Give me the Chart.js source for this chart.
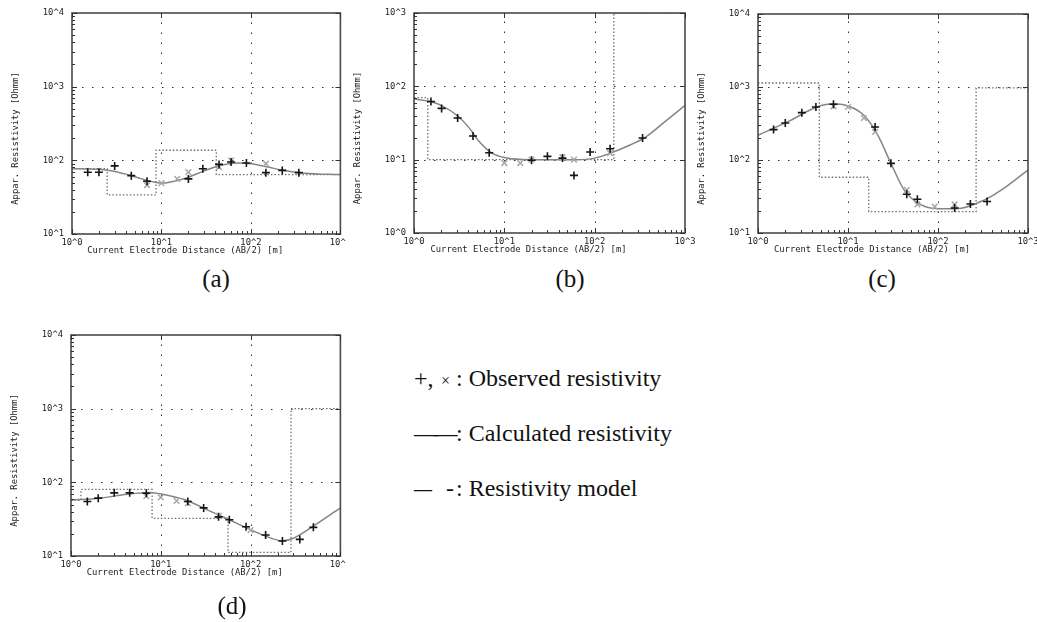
<!DOCTYPE html>
<html>
<head>
<meta charset="utf-8">
<script src="https://cdn.jsdelivr.net/npm/chart.js@4.4.1/dist/chart.umd.min.js"></script>
<style>
  body { margin: 0; background: #fff; width: 1037px; height: 622px; position: relative; overflow: hidden;
         font-family: "Liberation Serif", "Times New Roman", serif; color: #111; }
  canvas { position: absolute; }
  .lab { position: absolute; font-size: 25px; line-height: 25px; width: 100px; text-align: center; }
  .leg { position: absolute; font-size: 24px; line-height: 24px; white-space: nowrap; }
</style>
</head>
<body>
<canvas id="ca" width="346" height="262" style="left:0;top:0"></canvas>
<canvas id="cb" width="360" height="262" style="left:345px;top:0"></canvas>
<canvas id="cc" width="347" height="262" style="left:690px;top:0"></canvas>
<canvas id="cd" width="346" height="322" style="left:0;top:300px"></canvas>

<div class="lab" style="left:166px;top:266px">(a)</div>
<div class="lab" style="left:520px;top:266px">(b)</div>
<div class="lab" style="left:832px;top:266px">(c)</div>
<div class="lab" style="left:182px;top:593px">(d)</div>

<div class="leg" style="left:414px;top:366px">+,</div>
<div class="leg" style="left:441px;top:369px;font-size:16px">×</div>
<div class="leg" style="left:456px;top:366px">: Observed resistivity</div>
<div class="leg" style="left:414px;top:421px;letter-spacing:-4.5px">——</div>
<div class="leg" style="left:456px;top:421px">: Calculated resistivity</div>
<div class="leg" style="left:414px;top:476px;transform:scaleX(0.75);transform-origin:left">—</div>
<div class="leg" style="left:446px;top:476px">-</div>
<div class="leg" style="left:456px;top:476px">: Resistivity model</div>

<script>
// axis ticks (decades)
const xTicks = [1, 10, 100, 1000];
const yTicksA = [10, 100, 1000, 10000];
const yTicksB = [1, 10, 100, 1000];
const yTicksC = [10, 100, 1000, 10000];
const yTicksD = [10, 100, 1000, 10000];
const xTitle = 'Current Electrode Distance (AB/2) [m]';
const yTitle = 'Appar. Resistivity [Ohmm]';

// (a)
const obsA_x = [1.5, 2, 3, 4.6, 6.9, 20, 29, 44, 60, 89, 147, 224, 343];
const obsA_y = [69, 69, 84, 62, 52, 56, 77, 88, 95, 92, 68, 73, 68];
const obs2A_x = [6.9, 10, 15, 20, 44, 60, 147];
const obs2A_y = [46, 49, 56, 69, 81, 100, 90];
const calcA_x = [1, 1.5, 2.6, 4, 6, 8, 10, 14, 20, 30, 45, 70, 100, 150, 220, 400, 1000];
const calcA_y = [77, 76.5, 73, 65, 56, 51, 49, 52, 59, 72, 85, 92, 90, 82, 74, 67, 64];
const modelA_x = [1, 2.47, 2.47, 8.7, 8.7, 41, 41, 1000];
const modelA_y = [77, 77, 34, 34, 137, 137, 64, 64];

// (b)
const obsB_x = [1.54, 2.02, 3.04, 4.5, 6.8, 20, 30, 44, 59, 89, 148, 339];
const obsB_y = [62, 50, 37, 21, 12.4, 9.8, 11.1, 10.5, 6.1, 12.7, 14.1, 19.7];
const obs2B_x = [10, 15, 20, 44, 59, 148];
const obs2B_y = [9.0, 9.0, 10, 10.8, 10, 12.3];
const calcB_x = [1, 1.5, 2, 3, 4, 5.2, 7.3, 10, 20, 60, 100, 150, 250, 360, 600, 1000];
const calcB_y = [67, 62, 55, 40, 28, 18, 12.3, 10.7, 10, 10, 10.5, 12.3, 16, 20, 33, 55];
const modelB_x = [1, 1.42, 1.42, 163, 163, 1000];
const modelB_y = [70, 70, 10, 10, 1000, 1000];

// (c)
const obsC_x = [1.49, 2.01, 3.07, 4.4, 6.9, 20, 30, 45, 59, 153, 229, 351];
const obsC_y = [261, 321, 445, 532, 580, 283, 90, 34, 29, 22, 25, 27];
const obs2C_x = [6.9, 10, 15, 20, 45, 59, 92, 153];
const obs2C_y = [543, 532, 376, 242, 39, 24.6, 23, 24.6];
const calcC_x = [1, 2.3, 4.5, 7, 10.7, 15, 21, 30, 42, 62, 100, 160, 320, 570, 1000];
const calcC_y = [218, 349, 532, 590, 532, 409, 229, 90, 39, 25, 21.5, 21.5, 28, 43, 73];
const modelC_x = [1, 4.8, 4.8, 17, 17, 265, 265, 1000];
const modelC_y = [1135, 1135, 58, 58, 19.6, 19.6, 970, 970];

// (d)
const obsD_x = [1.52, 2.01, 3.03, 4.5, 6.9, 20, 30, 44, 58, 89, 147, 226, 353, 500];
const obsD_y = [55, 61, 72, 72, 71, 55, 45, 34, 31, 25, 19.3, 16, 16.8, 24.5];
const obs2D_x = [6.9, 10, 15, 20, 44, 100];
const obs2D_y = [65, 62.5, 56, 52, 35, 22.5];
const calcD_x = [1, 2.1, 4.2, 7.5, 10.5, 19, 32, 55, 88, 147, 225, 300, 490, 1000];
const calcD_y = [57.5, 61, 69, 73, 69, 57.5, 43, 32, 24.5, 18.6, 16.1, 17.4, 25, 45];
const modelD_x = [1, 1.29, 1.29, 8.0, 8.0, 56, 56, 282, 282, 1000];
const modelD_y = [57, 57, 80, 80, 32.5, 32.5, 11.2, 11.2, 1000, 1000];

const pts = (xs, ys) => xs.map((x, i) => ({ x: x, y: ys[i] }));
const monoFont = { family: 'DejaVu Sans Mono', size: 8.8 };
const decadeLabel = v => '10^' + Math.round(Math.log10(v));

// frame, dotted grid, inward ticks, axis titles
const framePlugin = {
  id: 'frame',
  beforeDatasetsDraw(chart) {
    const { ctx, chartArea: a, scales: { x, y } } = chart;
    ctx.save();
    ctx.strokeStyle = '#333';
    ctx.lineWidth = 1;
    ctx.setLineDash([1.5, 8.5]);
    x.ticks.slice(1, -1).forEach(t => {
      const px = Math.round(x.getPixelForValue(t.value)) + 0.5;
      ctx.beginPath(); ctx.moveTo(px, a.bottom); ctx.lineTo(px, a.top); ctx.stroke();
    });
    y.ticks.slice(1, -1).forEach(t => {
      const py = Math.round(y.getPixelForValue(t.value)) + 0.5;
      ctx.beginPath(); ctx.moveTo(a.left, py); ctx.lineTo(a.right, py); ctx.stroke();
    });
    ctx.restore();
  },
  afterDatasetsDraw(chart) {
    const { ctx, chartArea: a, scales: { x, y } } = chart;
    ctx.save();
    ctx.setLineDash([]);
    ctx.strokeStyle = '#4a4a4a';
    ctx.lineWidth = 1.6;
    ctx.strokeRect(a.left, a.top, a.right - a.left, a.bottom - a.top);
    ctx.strokeStyle = '#333';
    ctx.lineWidth = 1;
    const tick = (x1, y1, x2, y2) => { ctx.beginPath(); ctx.moveTo(x1, y1); ctx.lineTo(x2, y2); ctx.stroke(); };
    x.ticks.forEach((t, i) => {
      const px = Math.round(x.getPixelForValue(t.value)) + 0.5;
      tick(px, a.bottom, px, a.bottom - 5);
      tick(px, a.top, px, a.top + 5);
      if (i < x.ticks.length - 1) {
        for (let k = 2; k < 10; k++) {
          const mx = Math.round(x.getPixelForValue(t.value * k)) + 0.5;
          tick(mx, a.bottom, mx, a.bottom - 3);
        }
      }
    });
    y.ticks.forEach((t, i) => {
      const py = Math.round(y.getPixelForValue(t.value)) + 0.5;
      tick(a.left, py, a.left + 5, py);
      tick(a.right, py, a.right - 5, py);
      if (i < y.ticks.length - 1) {
        for (let k = 2; k < 10; k++) {
          const my = Math.round(y.getPixelForValue(t.value * k)) + 0.5;
          tick(a.left, my, a.left + 3, my);
        }
      }
    });
    ctx.fillStyle = '#1a1a1a';
    ctx.font = '8.8px "DejaVu Sans Mono"';
    ctx.textAlign = 'center';
    ctx.textBaseline = 'middle';
    ctx.fillText(xTitle, (a.left + a.right) / 2 - 21, a.bottom + 17);
    ctx.translate(a.left - 56, (a.top + a.bottom) / 2 + 15);
    ctx.rotate(-Math.PI / 2);
    ctx.fillText(yTitle, 0, 0);
    ctx.restore();
  }
};

function makePanel(id, geo, yTicks, obs, obs2, calc, model) {
  const canvas = document.getElementById(id);
  const W = canvas.width, H = canvas.height;
  return new Chart(canvas, {
    type: 'scatter',
    data: {
      datasets: [
        { data: obs, pointStyle: 'cross', pointRadius: 4, borderColor: '#151515', borderWidth: 1.6, order: 0 },
        { data: obs2, pointStyle: 'crossRot', pointRadius: 4, borderColor: '#a8a8a8', borderWidth: 1.5, order: 1 },
        { data: calc, showLine: true, pointRadius: 0, borderColor: '#858585', borderWidth: 1.5,
          cubicInterpolationMode: 'monotone', order: 2 },
        { data: model, showLine: true, pointRadius: 0, borderColor: '#6e6e6e', borderWidth: 1.3,
          borderDash: [1.5, 2], order: 3 }
      ]
    },
    options: {
      responsive: false,
      animation: false,
      layout: { padding: { left: 0, top: geo.T, right: W - geo.R, bottom: 0 } },
      plugins: { legend: { display: false }, tooltip: { enabled: false } },
      scales: {
        x: {
          type: 'logarithmic', min: xTicks[0], max: xTicks[xTicks.length - 1],
          afterBuildTicks: s => { s.ticks = xTicks.map(v => ({ value: v })); },
          afterFit: s => { s.height = H - geo.B; s.paddingLeft = 0; s.paddingRight = 0; },
          grid: { display: false, drawTicks: false },
          border: { display: false },
          ticks: { callback: decadeLabel, font: monoFont, color: '#1a1a1a', padding: 3, maxRotation: 0, autoSkip: false }
        },
        y: {
          type: 'logarithmic', min: yTicks[0], max: yTicks[yTicks.length - 1],
          afterBuildTicks: s => { s.ticks = yTicks.map(v => ({ value: v })); },
          afterFit: s => { s.width = geo.L; s.paddingTop = 0; s.paddingBottom = 0; },
          grid: { display: false, drawTicks: false },
          border: { display: false },
          ticks: { callback: decadeLabel, font: monoFont, color: '#1a1a1a', padding: 8, autoSkip: false }
        }
      }
    },
    plugins: [framePlugin]
  });
}

makePanel('ca', { L: 72, T: 13, R: 342, B: 234 }, yTicksA,
  pts(obsA_x, obsA_y), pts(obs2A_x, obs2A_y), pts(calcA_x, calcA_y), pts(modelA_x, modelA_y));
makePanel('cb', { L: 69, T: 13, R: 340, B: 233 }, yTicksB,
  pts(obsB_x, obsB_y), pts(obs2B_x, obs2B_y), pts(calcB_x, calcB_y), pts(modelB_x, modelB_y));
makePanel('cc', { L: 68, T: 14, R: 338, B: 233 }, yTicksC,
  pts(obsC_x, obsC_y), pts(obs2C_x, obs2C_y), pts(calcC_x, calcC_y), pts(modelC_x, modelC_y));
makePanel('cd', { L: 71, T: 35, R: 341, B: 256 }, yTicksD,
  pts(obsD_x, obsD_y), pts(obs2D_x, obs2D_y), pts(calcD_x, calcD_y), pts(modelD_x, modelD_y));
</script>
</body>
</html>
